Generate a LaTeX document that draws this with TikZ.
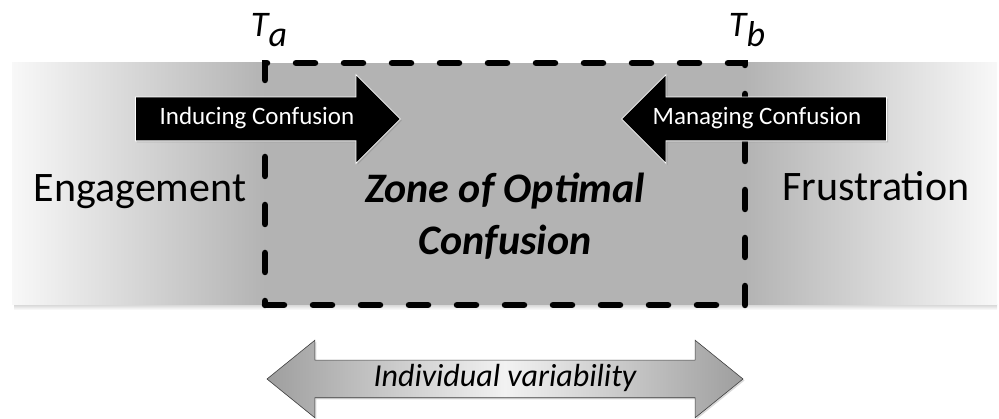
\documentclass[tikz,border=0pt]{standalone}
\usepackage{fontspec}
\setmainfont{Carlito}
\usetikzlibrary{
  shapes.arrows,
  shadows,
  positioning,
}
\definecolor{bandEdge}{HTML}{F8F8F8}
\definecolor{bandMid}{HTML}{B3B3B3}
\definecolor{spanGrey}{HTML}{9E9E9E}
\definecolor{spanLight}{HTML}{F2F2F2}
\tikzset{
  zonebox/.style={
    rectangle, draw=black, line width=6.5pt, line cap=round,
    dash pattern=on 19pt off 29pt, inner sep=0pt,
    minimum width=480pt, minimum height=242pt,
  },
  sidelabel/.style={
    anchor=base, inner sep=0pt, font=\fontsize{42}{50}\selectfont,
  },
  zonelabel/.style={
    inner sep=0pt, align=center,
    font=\fontsize{42}{52}\selectfont\bfseries\itshape,
  },
  tlabel/.style={
    anchor=base, inner sep=0pt, font=\fontsize{36}{42}\selectfont\itshape,
  },
  pusharrow/.style={
    single arrow, fill=black, draw=white, line width=0.8pt, text=white,
    font=\fontsize{25}{30}\selectfont, text height=18pt, text depth=6pt,
    inner ysep=9.5pt, inner xsep=0pt, minimum height=265pt,
    single arrow head extend=22.5pt, single arrow tip angle=90,
    anchor=tail,
    drop shadow={opacity=0.35, shadow xshift=1.5pt, shadow yshift=-1.5pt},
  },
  spanarrow/.style={
    double arrow, draw=black!75, line width=0.6pt,
    left color=spanGrey, right color=spanGrey, middle color=spanLight,
    font=\fontsize{32}{38}\selectfont\itshape,
    text height=22pt, text depth=7pt, inner ysep=4pt,
    minimum height=476pt, double arrow head extend=20pt,
    double arrow tip angle=78,
    drop shadow={opacity=0.3, shadow xshift=1.5pt, shadow yshift=-1.5pt},
  },
}

\begin{document}
\begin{tikzpicture}[x=1pt, y=-1pt]
\useasboundingbox (0,0) rectangle (999,419);

% grey band, light at both ends
\shade[top color=black!15, bottom color=white] (14,305) rectangle (997,310);
\shade[left color=bandEdge, right color=bandMid] (12,63) rectangle (265,305);
\fill[bandMid] (265,63) rectangle (745,305);
\shade[left color=bandMid, right color=bandEdge] (745,63) rectangle (997,305);

\node[zonebox] (zone) at (505,184) {};

\node[sidelabel] (engage) at (140,202) {Engagement};
\node[sidelabel] (frustr) at (876,201) {Frustration};
\node[zonelabel] (zonelbl) at (505,216) {Zone of Optimal\\Confusion};

\node[tlabel] (ta) at (269,37) {T\raisebox{-10pt}{a}};
\node[tlabel] (tb) at (747,37) {T\raisebox{-10pt}{b}};

\node[pusharrow] (induce) at (135,119) {Inducing Confusion};
\node[pusharrow, shape border rotate=180] (manage) at (887,119)
  {Managing Confusion\hspace*{16pt}};

\node[spanarrow] (spread) at (505,379) {Individual variability};

\end{tikzpicture}
\end{document}
